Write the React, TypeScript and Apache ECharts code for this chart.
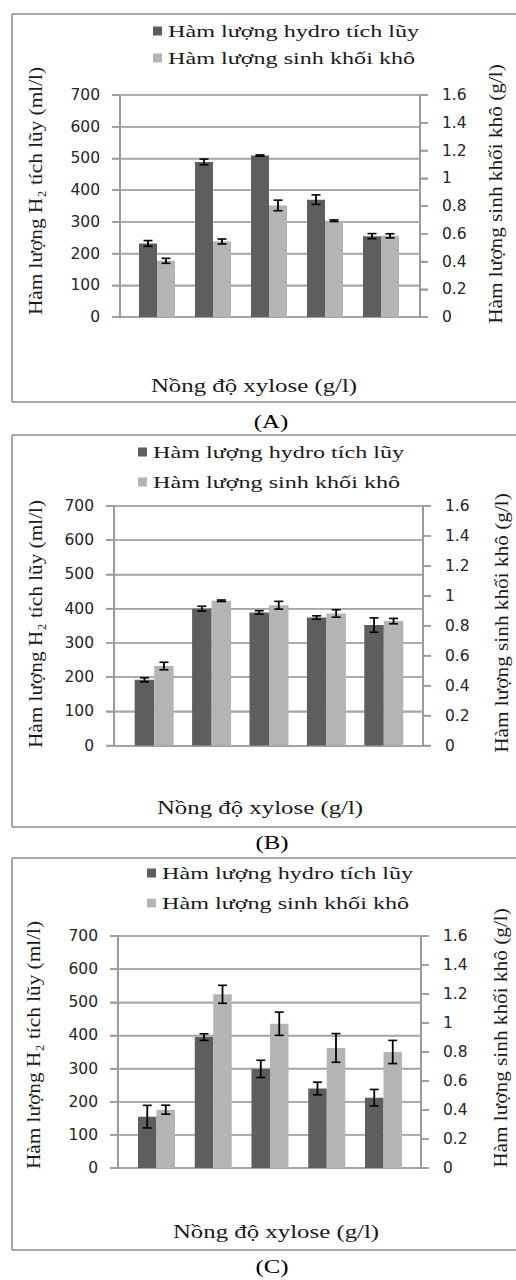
import React, { useEffect, useRef } from "react";
import * as echarts from "echarts";

// ---------- data ----------
const SERIES_H2 = "Hàm lượng hydro tích lũy";
const SERIES_BIO = "Hàm lượng sinh khối khô";
const xyloseLevels = [0, 1, 2, 3, 4]; // five xylose levels (unlabelled in the source)
const leftAxisTitle = "Hàm lượng H₂ tích lũy (ml/l)";
const rightAxisTitle = "Hàm lượng sinh khối khô (g/l)";
const xAxisTitle = "Nồng độ xylose (g/l)";
const panelLabels = ["(A)", "(B)", "(C)"];

const leftTicks = [0, 700, 100]; // min, max, interval (ml/l)
const rightTicks = [0, 1.6, 0.2]; // min, max, interval (g/l)
const leftTickValues = [0, 100, 200, 300, 400, 500, 600, 700];
const rightTickValues = [0, 0.2, 0.4, 0.6, 0.8, 1, 1.2, 1.4, 1.6];
const gridValues = [100, 200, 300, 400, 500, 600, 700]; // horizontal gridlines (ml/l)

const hydroA = [232, 489, 509, 370, 255];
const hydroErrA = [9, 9, 2, 15, 8];
const biomassA = [0.405, 0.544, 0.804, 0.694, 0.585];
const biomassErrA = [0.018, 0.018, 0.038, 0.006, 0.015];

const hydroB = [192, 400, 389, 374, 352];
const hydroErrB = [6, 7, 5, 5, 21];
const biomassB = [0.531, 0.967, 0.937, 0.882, 0.831];
const biomassErrB = [0.025, 0.005, 0.026, 0.025, 0.018];

const hydroC = [155, 395, 299, 240, 212];
const hydroErrC = [34, 10, 26, 19, 25];
const biomassC = [0.402, 1.198, 0.995, 0.828, 0.8];
const biomassErrC = [0.031, 0.062, 0.08, 0.099, 0.08];

// ---------- layout / style ----------
const S = 1.38; // horizontal stretch of the source's lettering

const DARK = "#5e5e5e";
const LIGHT = "#b4b4b4";
const GRID = "#a6a6a6";
const AXIS = "#9a9a9a";
const SERIF = "Liberation Serif";
const INK = "#1a1a1a";

const panels = [
  {
    hydro: hydroA, hydroErr: hydroErrA, bio: biomassA, bioErr: biomassErrA,
    box: [14, 402], l: 120, r: 420, t: 95, b: 317, c: 269, sp: 56, bw: 18,
    legendX: 153, legendY: [31, 58],
    xTitle: [254, 386], label: [271, 422], leftTitle: [35, 191], rightTitle: [495, 194],
  },
  {
    hydro: hydroB, hydroErr: hydroErrB, bio: biomassB, bioErr: biomassErrB,
    box: [435, 827], l: 114, r: 423, t: 506, b: 745.5, c: 269, sp: 57.4, bw: 19.5,
    legendX: 138, legendY: [452, 482],
    xTitle: [260, 808], label: [272, 843], leftTitle: [35, 624], rightTitle: [501, 623],
  },
  {
    hydro: hydroC, hydroErr: hydroErrC, bio: biomassC, bioErr: biomassErrC,
    box: [858, 1250], l: 118, r: 421, t: 936, b: 1168, c: 270, sp: 56.75, bw: 18.5,
    legendX: 147, legendY: [873, 903],
    xTitle: [276, 1232], label: [272, 1267], leftTitle: [33, 1045], rightTitle: [500, 1038],
  },
];

function errorRenderer(offsetPx: number) {
  return (params: any, api: any) => {
    const x = api.value(0);
    const v = api.value(1);
    const e = api.value(2);
    const p1 = api.coord([x, v + e]);
    const p2 = api.coord([x, v - e]);
    const cx = p1[0] + offsetPx;
    const hw = 4.5;
    const cap = { stroke: "#000", lineWidth: 1.6 };
    return {
      type: "group",
      children: [
        { type: "line", shape: { x1: cx, y1: p1[1], x2: cx, y2: p2[1] }, style: { stroke: "#000", lineWidth: 1.8 } },
        { type: "line", shape: { x1: cx - hw, y1: p1[1], x2: cx + hw, y2: p1[1] }, style: cap },
        { type: "line", shape: { x1: cx - hw, y1: p2[1], x2: cx + hw, y2: p2[1] }, style: cap },
      ],
    };
  };
}

// horizontal gridline across the plot at a value of the left axis
function gridLineRenderer(params: any, api: any) {
  const y = api.coord([api.value(0), api.value(1)])[1];
  const cs = params.coordSys;
  return {
    type: "line",
    shape: { x1: cs.x, y1: y, x2: cs.x + cs.width, y2: y },
    style: { stroke: GRID, lineWidth: 1.5 },
  };
}

// outward tick mark on the left (side = -1) or right (side = 1) value axis
function tickRenderer(side: number) {
  return (params: any, api: any) => {
    const y = api.coord([api.value(0), api.value(1)])[1];
    const cs = params.coordSys;
    const x0 = side < 0 ? cs.x : cs.x + cs.width;
    return {
      type: "line",
      shape: { x1: x0, y1: y, x2: x0 + side * 8, y2: y },
      style: { stroke: AXIS, lineWidth: 1.5 },
    };
  };
}

function buildOption() {
  const grid: any[] = [];
  const xAxis: any[] = [];
  const yAxis: any[] = [];
  const series: any[] = [];
  const graphic: any[] = [];
  const labelStyle = { fontFamily: "DejaVu Sans", fontSize: 15.5, color: "#262626" };

  panels.forEach((P, i) => {
    grid.push({ left: P.l, top: P.t, width: P.r - P.l, height: P.b - P.t });
    xAxis.push({
      type: "value",
      gridIndex: i,
      min: 2 - (P.c - P.l) / P.sp,
      max: 2 + (P.r - P.c) / P.sp,
      axisLine: { show: true, onZero: false, lineStyle: { color: AXIS, width: 1.5 } },
      axisTick: { show: false },
      axisLabel: { show: false },
      splitLine: { show: false },
    });
    yAxis.push({
      type: "value",
      gridIndex: i,
      position: "left",
      min: leftTicks[0],
      max: leftTicks[1],
      interval: leftTicks[2],
      axisLine: { show: true, onZero: false, lineStyle: { color: AXIS, width: 2 } },
      axisTick: { show: true, inside: false, length: 8, lineStyle: { color: AXIS, width: 1.5 } },
      axisLabel: { ...labelStyle, margin: 20 },
      splitLine: { show: true, lineStyle: { color: GRID, width: 1.5, type: "solid" } },
    });
    yAxis.push({
      type: "value",
      gridIndex: i,
      position: "right",
      min: rightTicks[0],
      max: rightTicks[1],
      interval: rightTicks[2],
      axisLine: { show: true, onZero: false, lineStyle: { color: AXIS, width: 2 } },
      axisTick: { show: true, inside: false, length: 8, lineStyle: { color: AXIS, width: 1.5 } },
      axisLabel: { ...labelStyle, margin: 22, formatter: (v: number) => String(+v.toFixed(1)) },
      splitLine: { show: false },
    });

    // gridlines (behind the bars) and tick marks, placed through the value axes
    series.push({
      type: "custom",
      xAxisIndex: i,
      yAxisIndex: 2 * i,
      z: 1,
      silent: true,
      encode: { x: 0, y: 1 },
      renderItem: gridLineRenderer,
      data: gridValues.map((v) => [2, v]),
    });
    series.push({
      type: "custom",
      xAxisIndex: i,
      yAxisIndex: 2 * i,
      z: 1,
      silent: true,
      encode: { x: 0, y: 1 },
      renderItem: tickRenderer(-1),
      data: leftTickValues.map((v) => [2, v]),
    });
    series.push({
      type: "custom",
      xAxisIndex: i,
      yAxisIndex: 2 * i + 1,
      z: 1,
      silent: true,
      encode: { x: 0, y: 1 },
      renderItem: tickRenderer(1),
      data: rightTickValues.map((v) => [2, v]),
    });

    series.push({
      name: SERIES_H2,
      type: "bar",
      xAxisIndex: i,
      yAxisIndex: 2 * i,
      barWidth: P.bw,
      barGap: "0%",
      itemStyle: { color: DARK },
      data: xyloseLevels.map((x, k) => [x, P.hydro[k]]),
    });
    series.push({
      name: SERIES_BIO,
      type: "bar",
      xAxisIndex: i,
      yAxisIndex: 2 * i + 1,
      barWidth: P.bw,
      barGap: "0%",
      itemStyle: { color: LIGHT },
      data: xyloseLevels.map((x, k) => [x, P.bio[k]]),
    });
    series.push({
      type: "custom",
      xAxisIndex: i,
      yAxisIndex: 2 * i,
      z: 5,
      encode: { x: 0, y: 1 },
      renderItem: errorRenderer(-P.bw / 2),
      data: xyloseLevels.map((x, k) => [x, P.hydro[k], P.hydroErr[k]]),
    });
    series.push({
      type: "custom",
      xAxisIndex: i,
      yAxisIndex: 2 * i + 1,
      z: 5,
      encode: { x: 0, y: 1 },
      renderItem: errorRenderer(P.bw / 2),
      data: xyloseLevels.map((x, k) => [x, P.bio[k], P.bioErr[k]]),
    });

    // chart box (its right edge runs off the picture) drawn as three open lines
    const boxStyle = { stroke: "#8c8c8c", lineWidth: 1.5 };
    const [bt, bb] = P.box;
    graphic.push({ type: "line", silent: true, shape: { x1: 12, y1: bt, x2: 560, y2: bt }, style: boxStyle });
    graphic.push({ type: "line", silent: true, shape: { x1: 12, y1: bt, x2: 12, y2: bb }, style: boxStyle });
    graphic.push({ type: "line", silent: true, shape: { x1: 12, y1: bb, x2: 560, y2: bb }, style: boxStyle });
    // legend
    [SERIES_H2, SERIES_BIO].forEach((name, k) => {
      graphic.push({
        type: "rect",
        shape: { x: P.legendX, y: P.legendY[k] - 4.5, width: 9, height: 9 },
        style: { fill: k === 0 ? DARK : LIGHT },
      });
      graphic.push({
        type: "text",
        x: P.legendX + 15,
        y: P.legendY[k],
        scaleX: S,
        style: { text: name, fontFamily: SERIF, fontSize: 17.5, fill: INK, textAlign: "left", textVerticalAlign: "middle" },
      });
    });
    // axis titles
    graphic.push({
      type: "text",
      x: P.xTitle[0],
      y: P.xTitle[1],
      scaleX: S,
      style: { text: xAxisTitle, fontFamily: SERIF, fontSize: 18, fill: INK, textAlign: "center", textVerticalAlign: "middle" },
    });
    graphic.push({
      type: "text",
      x: P.leftTitle[0],
      y: P.leftTitle[1],
      rotation: Math.PI / 2,
      scaleX: 1.12,
      style: { text: leftAxisTitle, fontFamily: SERIF, fontSize: 19, fill: INK, textAlign: "center", textVerticalAlign: "middle" },
    });
    graphic.push({
      type: "text",
      x: P.rightTitle[0],
      y: P.rightTitle[1],
      rotation: Math.PI / 2,
      scaleX: 1.12,
      style: { text: rightAxisTitle, fontFamily: SERIF, fontSize: 19, fill: INK, textAlign: "center", textVerticalAlign: "middle" },
    });
    // panel label under the box
    graphic.push({
      type: "text",
      x: P.label[0],
      y: P.label[1],
      scaleX: S,
      style: { text: panelLabels[i], fontFamily: SERIF, fontSize: 18, fill: "#000", textAlign: "center", textVerticalAlign: "middle" },
    });
  });

  return {
    animation: false,
    grid,
    xAxis,
    yAxis,
    series,
    graphic,
  };
}

export default function App() {
  const ref = useRef<HTMLDivElement>(null);
  useEffect(() => {
    document.body.style.margin = "0";
    document.body.style.overflow = "hidden";
    if (!ref.current) return;
    const chart = echarts.init(ref.current, undefined, { renderer: "svg" });
    chart.setOption(buildOption() as any);
    return () => chart.dispose();
  }, []);
  return <div ref={ref} style={{ width: 516, height: 1280, background: "#fff" }} />;
}
